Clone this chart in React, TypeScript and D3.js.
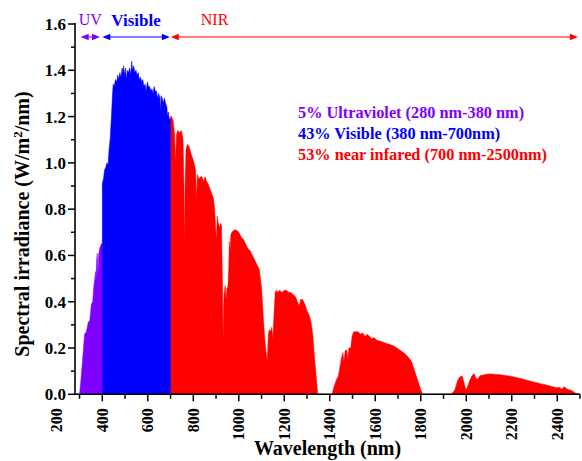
import * as d3 from 'd3';

// spectral irradiance: [wavelength nm, W/m2/nm]
const uvSpectrum: [number, number][] = [
  [280, 0], [300, 0], [305, 0.05], [315, 0.17], [322, 0.26], [330, 0.27], [338, 0.31],
  [345, 0.32], [352, 0.39], [358, 0.40], [362, 0.46], [367, 0.50], [370, 0.53], [372, 0.49],
  [375, 0.58], [378, 0.61], [381, 0.52], [384, 0.60], [388, 0.63], [392, 0.64], [396, 0.65], [400, 0.65],
];

const visibleSpectrum: [number, number][] = [
  [400, 0.91], [405, 0.93], [410, 0.97], [415, 0.98], [420, 1.0], [425, 0.99], [430, 1.06],
  [435, 1.11], [440, 1.2], [445, 1.3], [448, 1.34], [452, 1.33], [458, 1.36], [463, 1.35],
  [468, 1.38], [472, 1.36], [477, 1.39], [482, 1.37], [487, 1.41], [490, 1.39], [494, 1.42],
  [498, 1.38], [502, 1.41], [506, 1.36], [510, 1.40], [515, 1.39], [520, 1.41], [525, 1.38],
  [529, 1.44], [533, 1.40], [538, 1.42], [543, 1.39], [548, 1.40], [553, 1.38], [558, 1.39],
  [563, 1.36], [568, 1.37], [573, 1.35], [578, 1.36], [583, 1.33], [588, 1.34], [593, 1.31],
  [598, 1.35], [603, 1.33], [608, 1.33], [613, 1.31], [618, 1.32], [623, 1.30], [628, 1.33],
  [633, 1.31], [638, 1.31], [643, 1.28], [648, 1.30], [653, 1.28], [656, 1.22], [658, 1.29],
  [663, 1.28], [668, 1.26], [673, 1.28], [678, 1.26], [684, 1.24], [687, 1.20], [690, 1.22],
  [695, 1.19], [700, 1.19],
];

const nirSpectrum: [number, number][] = [
  [700, 1.2], [705, 1.2], [712, 1.18], [718, 1.12], [722, 1.0], [726, 1.12], [732, 1.14],
  [740, 1.13], [748, 1.14], [755, 1.1], [759, 0.9], [761, 0.64], [764, 0.9], [768, 1.06],
  [775, 1.08], [782, 1.07], [790, 1.04], [797, 1.02], [803, 1.0], [810, 0.97], [815, 0.84],
  [818, 0.95], [825, 0.93], [832, 0.94], [838, 0.94], [845, 0.92], [852, 0.94], [858, 0.92],
  [865, 0.91], [872, 0.89], [880, 0.87], [888, 0.85], [894, 0.80], [898, 0.72], [902, 0.67],
  [905, 0.77], [910, 0.74], [915, 0.72], [920, 0.74], [924, 0.73], [928, 0.5], [931, 0.24],
  [935, 0.43], [940, 0.47], [944, 0.41], [948, 0.46], [952, 0.46], [956, 0.55], [958, 0.66],
  [962, 0.62], [965, 0.69], [970, 0.7], [980, 0.71], [990, 0.71], [1000, 0.70], [1010, 0.68],
  [1020, 0.67], [1030, 0.65], [1040, 0.63], [1050, 0.62], [1060, 0.6], [1070, 0.58],
  [1080, 0.56], [1090, 0.54], [1095, 0.50], [1100, 0.46], [1105, 0.38], [1110, 0.30],
  [1115, 0.23], [1120, 0.18], [1125, 0.14], [1130, 0.26], [1135, 0.28], [1140, 0.27],
  [1145, 0.29], [1150, 0.24], [1155, 0.35], [1160, 0.44], [1165, 0.45], [1170, 0.44],
  [1180, 0.45], [1190, 0.44], [1200, 0.45], [1210, 0.45], [1220, 0.44], [1230, 0.44],
  [1240, 0.43], [1250, 0.42], [1258, 0.40], [1265, 0.38], [1272, 0.41], [1280, 0.41],
  [1290, 0.39], [1300, 0.36], [1310, 0.34], [1318, 0.31], [1325, 0.26], [1332, 0.17],
  [1340, 0.08], [1347, 0], [1410, 0], [1418, 0.03], [1428, 0.06], [1438, 0.08], [1445, 0.12],
  [1452, 0.16], [1458, 0.18], [1462, 0.14], [1468, 0.19], [1475, 0.19], [1480, 0.15],
  [1484, 0.2], [1492, 0.2], [1498, 0.25], [1505, 0.27], [1515, 0.27], [1525, 0.27],
  [1535, 0.26], [1545, 0.265], [1555, 0.25], [1565, 0.26], [1575, 0.25], [1585, 0.24],
  [1595, 0.245], [1605, 0.235], [1620, 0.23], [1635, 0.225], [1650, 0.22], [1665, 0.215],
  [1680, 0.21], [1695, 0.2], [1710, 0.19], [1725, 0.18], [1740, 0.165], [1750, 0.155],
  [1760, 0.14], [1770, 0.11], [1780, 0.08], [1790, 0.05], [1800, 0.02], [1808, 0],
  [1935, 0], [1950, 0.02], [1962, 0.06], [1972, 0.075], [1982, 0.08], [1990, 0.05],
  [1998, 0.02], [2005, 0.03], [2015, 0.06], [2025, 0.08], [2035, 0.09], [2042, 0.07],
  [2050, 0.065], [2060, 0.08], [2075, 0.083], [2090, 0.087], [2105, 0.088], [2120, 0.087],
  [2135, 0.086], [2150, 0.085], [2165, 0.082], [2180, 0.08], [2195, 0.078], [2210, 0.075],
  [2225, 0.072], [2240, 0.068], [2255, 0.064], [2270, 0.06], [2285, 0.056], [2300, 0.052],
  [2315, 0.049], [2330, 0.045], [2345, 0.042], [2360, 0.038], [2375, 0.034], [2390, 0.030],
  [2400, 0.028], [2410, 0.03], [2420, 0.022], [2430, 0.033], [2440, 0.025], [2450, 0.02],
  [2460, 0.018], [2470, 0.012], [2480, 0.006], [2490, 0.002], [2500, 0],
];

const xMajorTicks = [200, 400, 600, 800, 1000, 1200, 1400, 1600, 1800, 2000, 2200, 2400];
const xMinorTicks = [300, 500, 700, 900, 1100, 1300, 1500, 1700, 1900, 2100, 2300, 2500];
const yMajorTicks = [0, 0.2, 0.4, 0.6, 0.8, 1.0, 1.2, 1.4, 1.6];
const yMinorTicks = [0.1, 0.3, 0.5, 0.7, 0.9, 1.1, 1.3, 1.5];

// band arrows along the top: [label, from nm, to nm]
const bandArrows: { label: string; from: number; to: number; color: string; bold: boolean }[] = [
  { label: 'UV', from: 305, to: 390, color: '#8000ff', bold: false },
  { label: 'Visible', from: 400, to: 697, color: '#0000ff', bold: true },
  { label: 'NIR', from: 701, to: 2491, color: '#ff0000', bold: false },
];

const legendLines = [
  { text: '5% Ultraviolet (280 nm-380 nm)', color: '#8000ff' },
  { text: '43% Visible (380 nm-700nm)', color: '#0000ff' },
  { text: '53% near infared (700 nm-2500nm)', color: '#ff0000' },
];

const FONT = '"Liberation Serif", "Times New Roman", serif';

export default function App() {
  const width = 582;
  const height = 461;
  const left = 75, right = 580, top = 24, bottom = 394.3;

  const x = d3.scaleLinear().domain([280, 2500]).range([left, right]);
  const y = d3.scaleLinear().domain([0, 1.6]).range([bottom, top]);

  const area = d3.area<[number, number]>()
    .x(d => x(d[0]))
    .y0(y(0))
    .y1(d => y(d[1]));

  const arrowHead = (tipX: number, dir: number, yy: number) =>
    `M${tipX},${yy} L${tipX - dir * 8},${yy - 3.3} L${tipX - dir * 8},${yy + 3.3} Z`;

  const arrowY = 37;

  return (
    <svg width={width} height={height} style={{ position: 'absolute', left: 0, top: 0, background: '#fff' }} fontFamily={FONT}>
      <path d={area(uvSpectrum) || ''} fill="#8000ff" stroke="#8000ff" strokeWidth={0.5} />
      <path d={area(nirSpectrum) || ''} fill="#ff0000" stroke="#ff0000" strokeWidth={0.5} />
      <path d={area(visibleSpectrum) || ''} fill="#0000ff" stroke="#0000ff" strokeWidth={0.5} />

      {/* axes */}
      <line x1={left} x2={left} y1={top - 1} y2={bottom} stroke="#000" strokeWidth={1.6} />
      <line x1={left} x2={right} y1={bottom} y2={bottom} stroke="#000" strokeWidth={1.6} />

      {yMajorTicks.map(t => (
        <g key={'ym' + t}>
          <line x1={left - 7} x2={left} y1={y(t)} y2={y(t)} stroke="#000" strokeWidth={1.5} />
          <text x={left - 9} y={y(t)} dy="0.35em" textAnchor="end" fontSize={17} fontWeight="bold">
            {t.toFixed(1)}
          </text>
        </g>
      ))}
      {yMinorTicks.map(t => (
        <line key={'yn' + t} x1={left - 4} x2={left} y1={y(t)} y2={y(t)} stroke="#000" strokeWidth={1.5} />
      ))}

      {xMajorTicks.map(t => (
        <g key={'xm' + t}>
          {t >= 280 && <line x1={x(t)} x2={x(t)} y1={bottom} y2={bottom + 7} stroke="#000" strokeWidth={1.5} />}
          <text transform={`translate(${x(t)},${bottom + 14}) rotate(-90)`} dy="0.35em" textAnchor="end"
            fontSize={16} fontWeight="bold">{t}</text>
        </g>
      ))}
      {xMinorTicks.map(t => (
        <line key={'xn' + t} x1={x(t)} x2={x(t)} y1={bottom} y2={bottom + 4.5} stroke="#000" strokeWidth={1.5} />
      ))}

      <text x={(left + right) / 2} y={455} textAnchor="middle" fontSize={20} fontWeight="bold">Wavelength (nm)</text>
      <text transform="translate(29,224) rotate(-90)" textAnchor="middle" fontSize={20} fontWeight="bold">
        Spectral irradiance (W/m<tspan dy={-7} fontSize={13}>2</tspan><tspan dy={7}>/nm)</tspan>
      </text>

      {/* band arrows */}
      {bandArrows.map(b => {
        const x1 = x(b.from), x2 = x(b.to);
        const labelX = b.label === 'NIR' ? x1 + 30 : (x1 + x2) / 2;
        return (
          <g key={b.label}>
            <line x1={x1 + 4} x2={x2 - 4} y1={arrowY} y2={arrowY} stroke={b.color} strokeWidth={1} />
            <path d={arrowHead(x1, -1, arrowY)} fill={b.color} />
            <path d={arrowHead(x2, 1, arrowY)} fill={b.color} />
            <text x={labelX} y={b.bold ? 26 : 25} textAnchor={b.label === 'NIR' ? 'start' : 'middle'}
              fontSize={b.bold ? 17 : 16} fontWeight={b.bold ? 'bold' : 'normal'} fill={b.color}>{b.label}</text>
          </g>
        );
      })}

      {legendLines.map((l, i) => (
        <text key={l.text} x={298} y={118 + i * 21} fontSize={16.3} fontWeight="bold" fill={l.color}>{l.text}</text>
      ))}
    </svg>
  );
}
